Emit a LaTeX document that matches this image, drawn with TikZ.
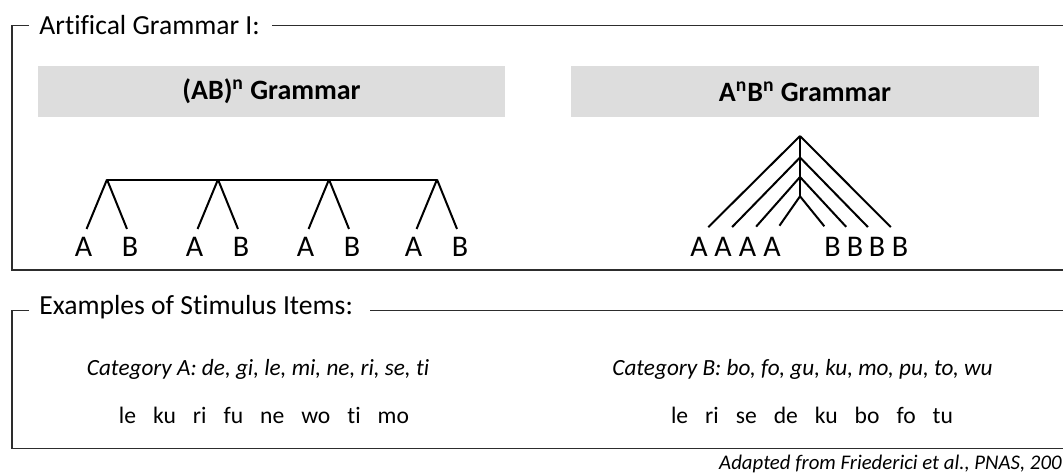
\documentclass[tikz,border=0pt]{standalone}
\usepackage{fontspec}
\setmainfont{Carlito}[Ligatures=NoCommon]
\usetikzlibrary{positioning}
\definecolor{boxgray}{RGB}{221,221,221}
\definecolor{linegray}{RGB}{45,45,45}
\newcommand{\wsep}{\hspace{0.72em}}

\begin{document}
\begin{tikzpicture}[x=0.5pt,y=-0.5pt,
    frame/.style={draw=linegray, line width=0.65pt},
    frametitle/.style={inner sep=0pt, anchor=base west, font=\fontsize{13.8}{16}\selectfont},
    gramtitle/.style={fill=boxgray, inner sep=0pt, minimum height=25.5pt, font=\bfseries\fontsize{14}{16}\selectfont},
    leaf/.style={inner sep=0pt, anchor=base, font=\fontsize{15}{17}\selectfont},
    branch/.style={line width=1pt, shorten >=4pt},
    nest/.style={branch, shorten >=6.5pt},
    catline/.style={inner sep=0pt, anchor=base, font=\itshape\fontsize{11.6}{14}\selectfont},
    itemline/.style={inner sep=0pt, anchor=base, font=\fontsize{11.8}{14}\selectfont}]

\useasboundingbox (0,0) rectangle (1063,472);

% frames
\node[frametitle] (gramhead) at (39,34) {Artifical Grammar I:};
\draw[frame] (29,25.5) -| (12,270) -- (1063,270);
\draw[frame] (272,25.5) -- (1063,25.5);
\node[frametitle] (itemhead) at (39,314) {Examples of Stimulus Items:};
\draw[frame] (29,310.5) -| (12,448.5) -- (1063,448.5);
\draw[frame] (370,310.5) -- (1063,310.5);

% grammar headers
\node[gramtitle, minimum width=233.5pt] (abhead) at (271.5,91.5) {(AB)\textsuperscript{n} Grammar};
\node[gramtitle, minimum width=234pt] (anbnhead) at (805,91.5) {A\textsuperscript{n}B\textsuperscript{n} Grammar};

% (AB)^n tree
\foreach \n/\x in {1/107,2/218,3/329,4/437} {
  \coordinate (top\n) at (\x,179.5);
  \node[leaf] (a\n) at (\x-23.5,256) {A};
  \node[leaf] (b\n) at (\x+23,256) {B};
  \draw[branch] (top\n) -- (a\n.north);
  \draw[branch] (top\n) -- (b\n.north);
}
\draw[line width=1pt] (top1) -- (top4);

% A^nB^n tree
\coordinate (j1) at (800,136);
\coordinate (j2) at (800,157.5);
\coordinate (j3) at (800,177);
\coordinate (j4) at (800,196.3);
\foreach \n/\x in {1/699,2/723,3/747.5,4/772}
  \node[leaf] (ca\n) at (\x,256) {A};
\foreach \n/\x in {1/832.5,2/855,3/877,4/900}
  \node[leaf] (cb\n) at (\x,256) {B};
\draw[line width=1pt] (j1) -- (j4);
\foreach \n/\m in {1/4,2/3,3/2,4/1} {
  \draw[nest] (j\n) -- (ca\n.north);
  \draw[nest] (j\n) -- (cb\m.north);
}

% stimulus items
\node[catline] (cata) at (258,375) {Category A: de, gi, le, mi, ne, ri, se, ti};
\node[catline] (catb) at (802.5,375) {Category B: bo, fo, gu, ku, mo, pu, to, wu};
\node[itemline] (itema) at (264,423.5) {le\wsep ku\wsep ri\wsep fu\wsep ne\wsep wo\wsep ti\wsep mo};
\node[itemline] (itemb) at (812,423.5) {le\wsep ri\wsep se\wsep de\wsep ku\wsep bo\wsep fo\wsep tu};

% source
\node[catline, anchor=base east, font=\itshape\fontsize{10.4}{12}\selectfont] (source) at (1062,469) {Adapted from Friederici et al., PNAS, 200};
\end{tikzpicture}
\end{document}
